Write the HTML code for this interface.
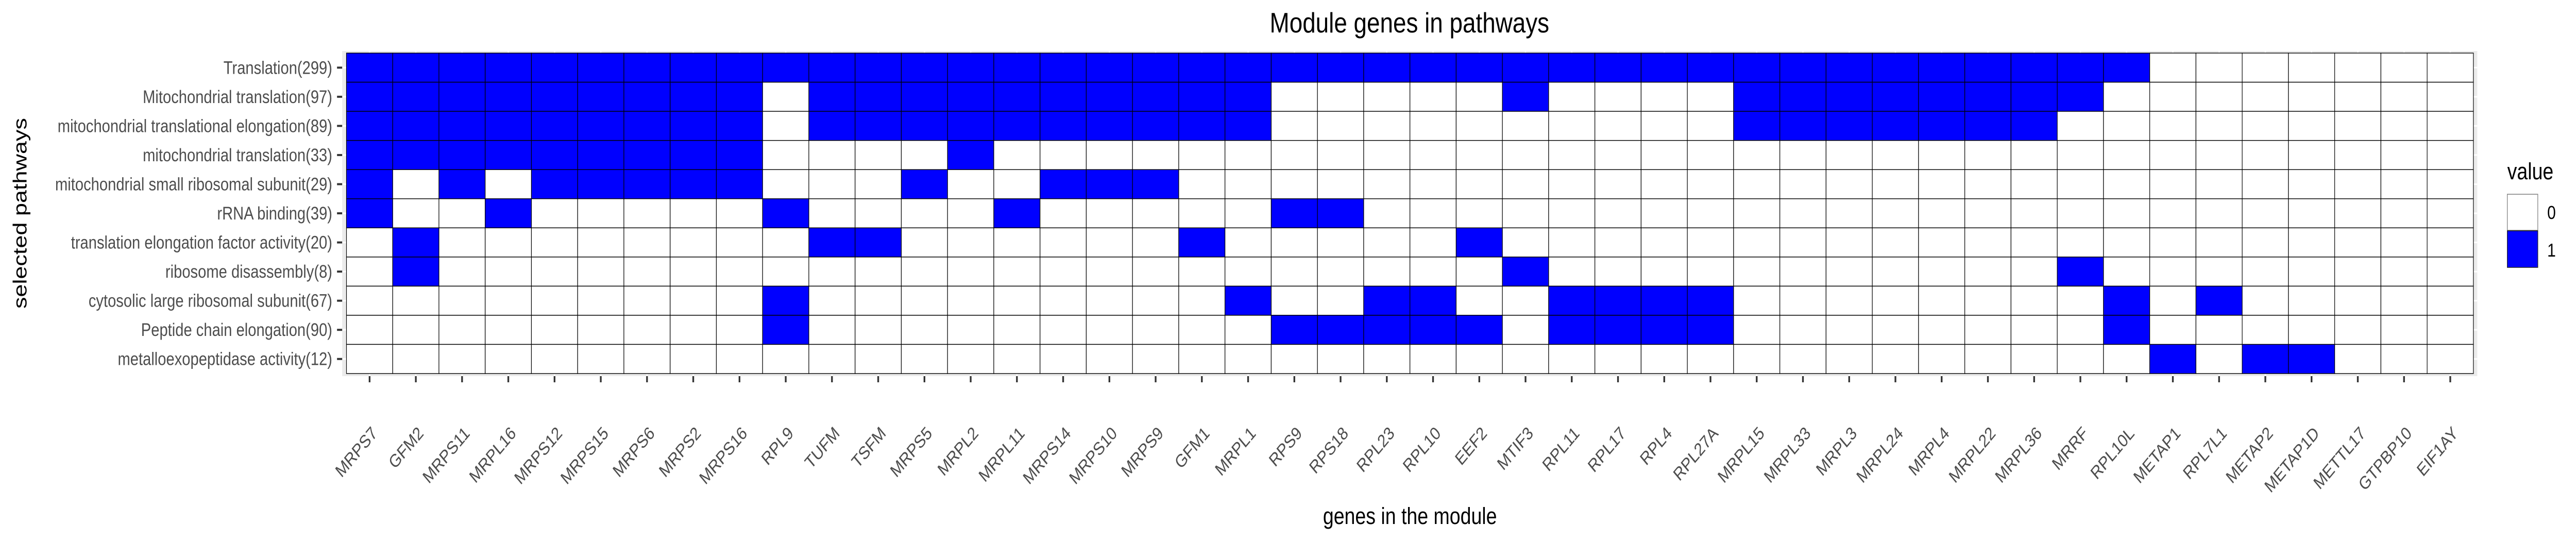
<!DOCTYPE html>
<html><head><meta charset="utf-8"><style>
html,body{margin:0;padding:0;background:#fff;overflow:hidden;width:100vw;height:100vh;}
svg{display:block;font-family:"Liberation Sans",Arial,sans-serif;width:100vw;height:100vh;}
</style></head><body>
<svg id="chart" viewBox="0 0 6000 1050" preserveAspectRatio="none" xmlns="http://www.w3.org/2000/svg">
<rect x="0" y="0" width="6000" height="1050" fill="#fff"/>
<text x="3283" y="63" font-size="55" text-anchor="middle" fill="#000">Module genes in pathways</text>
<rect x="797" y="99" width="4973" height="631" fill="#EBEBEB"/>
<g id="grid"></g>
<g id="tiles"></g>
<g id="yaxis"></g>
<g id="xaxis"></g>
<text x="3284" y="1017" font-size="45" text-anchor="middle" fill="#000">genes in the module</text>
<text transform="translate(62,414) rotate(-90)" font-size="45" text-anchor="middle" fill="#000">selected pathways</text>
<g>
<text x="5840" y="348" font-size="45" fill="#000">value</text>
<rect x="5840" y="377" width="71" height="70" fill="#fff" stroke="#7f7f7f" stroke-width="1.5"/>
<rect x="5840" y="448" width="71" height="71" fill="#0000FF" stroke="#222" stroke-width="1.5"/>
<text x="5933" y="425" font-size="36" fill="#000">0</text>
<text x="5933" y="498" font-size="36" fill="#000">1</text>
</g>
</svg>
<script>
const genes = ["MRPS7","GFM2","MRPS11","MRPL16","MRPS12","MRPS15","MRPS6","MRPS2","MRPS16","RPL9","TUFM","TSFM","MRPS5","MRPL2","MRPL11","MRPS14","MRPS10","MRPS9","GFM1","MRPL1","RPS9","RPS18","RPL23","RPL10","EEF2","MTIF3","RPL11","RPL17","RPL4","RPL27A","MRPL15","MRPL33","MRPL3","MRPL24","MRPL4","MRPL22","MRPL36","MRRF","RPL10L","METAP1","RPL7L1","METAP2","METAP1D","METTL17","GTPBP10","EIF1AY"];
const pathways = ["Translation(299)","Mitochondrial translation(97)","mitochondrial translational elongation(89)","mitochondrial translation(33)","mitochondrial small ribosomal subunit(29)","rRNA binding(39)","translation elongation factor activity(20)","ribosome disassembly(8)","cytosolic large ribosomal subunit(67)","Peptide chain elongation(90)","metalloexopeptidase activity(12)"];
// indices of genes with value 1 for each pathway
const memTranslation = [0,1,2,3,4,5,6,7,8,9,10,11,12,13,14,15,16,17,18,19,20,21,22,23,24,25,26,27,28,29,30,31,32,33,34,35,36,37,38];
const memMitoTrans97 = [0,1,2,3,4,5,6,7,8,10,11,12,13,14,15,16,17,18,19,25,30,31,32,33,34,35,36,37];
const memMitoElong = [0,1,2,3,4,5,6,7,8,10,11,12,13,14,15,16,17,18,19,30,31,32,33,34,35,36];
const memMitoTrans33 = [0,1,2,3,4,5,6,7,8,13];
const memMitoSmall = [0,2,4,5,6,7,8,12,15,16,17];
const memRRNA = [0,3,9,14,20,21];
const memElongFactor = [1,10,11,18,24];
const memRiboDisassembly = [1,25,37];
const memCytoLarge = [9,19,22,23,26,27,28,29,38,40];
const memPeptide = [9,20,21,22,23,24,26,27,28,29,38];
const memMetallo = [39,41,42];
const memberships = [memTranslation,memMitoTrans97,memMitoElong,memMitoTrans33,memMitoSmall,memRRNA,memElongFactor,memRiboDisassembly,memCytoLarge,memPeptide,memMetallo];

const NS="http://www.w3.org/2000/svg";
const X0=807, X1=5761, Y0=103, Y1=725;
const cw=(X1-X0)/genes.length, ch=(Y1-Y0)/pathways.length;
const xPos=i=>X0+i*cw, yPos=j=>Y0+j*ch;
function mk(tag,attrs,parent){const e=document.createElementNS(NS,tag);for(const k in attrs)e.setAttribute(k,attrs[k]);parent.appendChild(e);return e;}
const grid=document.getElementById('grid'),tiles=document.getElementById('tiles'),ya=document.getElementById('yaxis'),xa=document.getElementById('xaxis');
for(let i=0;i<genes.length;i++){
  const g=mk('line',{x1:xPos(i)+cw/2,x2:xPos(i)+cw/2,y1:99,y2:730,stroke:'#fff','stroke-width':3},grid);
  
  
}
for(let j=0;j<pathways.length;j++){
  const g=mk('line',{x1:797,x2:5770,y1:yPos(j)+ch/2,y2:yPos(j)+ch/2,stroke:'#fff','stroke-width':3},grid);
  
  
}
for(let j=0;j<pathways.length;j++){
  for(let i=0;i<genes.length;i++){
    const v=memberships[j].includes(i)?1:0;
    const r=mk('rect',{x:xPos(i),y:yPos(j),width:cw,height:ch,fill:v?'#0000FF':'#FFFFFF',stroke:'#000','stroke-width':1.4},tiles);
    
    
  }
  const cy=yPos(j)+ch/2;
  const t=mk('line',{x1:785,x2:797,y1:cy,y2:cy,stroke:'#333','stroke-width':4},ya);
  
  
  const l=mk('text',{x:774,y:cy+12,'font-size':35,'text-anchor':'end',fill:'#4D4D4D'},ya);
  l.textContent=pathways[j];
  
  
}
for(let i=0;i<genes.length;i++){
  const cx=xPos(i)+cw/2;
  const t=mk('line',{x1:cx,x2:cx,y1:730,y2:742,stroke:'#333','stroke-width':4},xa);
  
  
  const bx=cx+20, by=843;
  const l=mk('text',{x:bx,y:by,'font-size':35,'text-anchor':'end',fill:'#4D4D4D',transform:'rotate(-45 '+bx+' '+by+')'},xa);
  l.textContent=genes[i];
  
  
}
</script>
</body></html>
